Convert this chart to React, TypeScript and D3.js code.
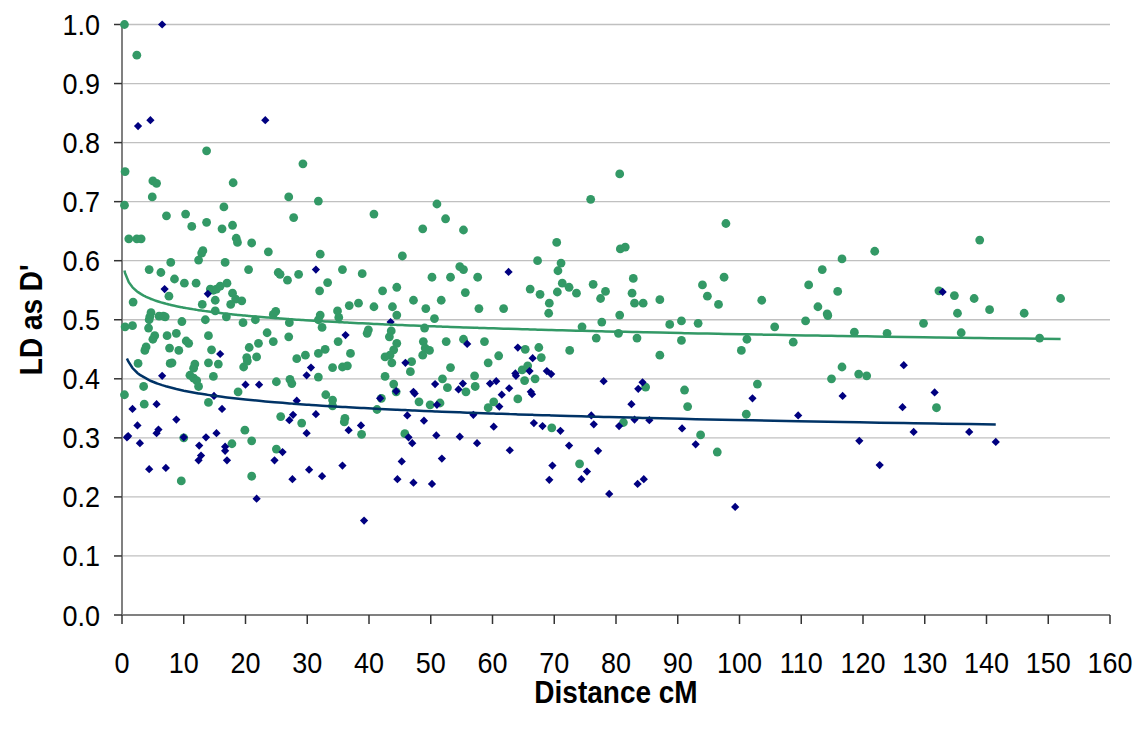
import React, { useEffect, useRef } from 'react';
import * as d3 from 'd3';

// distance (cM), LD (D')
const greenPoints: [number, number][] = [
  [0.4, 1.0], [2.4, 0.948], [0.5, 0.751], [5.0, 0.735], [5.6, 0.731], [13.7, 0.786], [18.0, 0.732], [29.3, 0.764],
  [4.9, 0.708], [27.0, 0.708], [0.4, 0.694], [7.2, 0.676], [10.3, 0.679], [13.7, 0.665], [16.5, 0.691], [11.3, 0.658],
  [16.2, 0.654], [17.9, 0.66], [27.8, 0.673], [1.1, 0.637], [2.4, 0.637], [3.1, 0.637], [18.5, 0.638], [18.7, 0.631],
  [21.0, 0.63], [23.7, 0.615], [13.1, 0.617], [12.9, 0.613], [12.4, 0.601], [7.9, 0.597], [16.7, 0.597], [4.4, 0.585],
  [6.3, 0.58], [20.5, 0.585], [25.3, 0.58], [25.6, 0.577], [26.8, 0.567], [28.6, 0.577], [8.5, 0.569], [10.1, 0.562],
  [12.0, 0.562], [17.0, 0.562], [14.3, 0.552], [14.8, 0.55], [15.3, 0.552], [15.9, 0.557], [15.1, 0.533], [17.9, 0.545],
  [18.4, 0.535], [19.4, 0.532], [7.6, 0.54], [1.8, 0.53], [17.6, 0.526], [13.0, 0.526], [15.1, 0.515], [24.9, 0.514],
  [24.5, 0.509], [16.9, 0.505], [13.5, 0.5], [9.7, 0.497], [4.7, 0.512], [4.5, 0.505], [4.4, 0.5], [6.0, 0.506],
  [7.0, 0.505], [6.7, 0.506], [19.6, 0.495], [21.6, 0.5], [27.1, 0.495], [0.5, 0.488], [1.7, 0.49], [4.3, 0.486],
  [8.8, 0.477], [23.5, 0.478], [14.0, 0.473], [5.3, 0.473], [5.0, 0.467], [7.3, 0.473], [10.4, 0.464], [10.8, 0.46],
  [27.0, 0.471], [24.5, 0.463], [22.1, 0.46], [20.6, 0.453], [3.9, 0.454], [3.7, 0.448], [7.7, 0.452], [9.2, 0.448],
  [14.5, 0.449], [21.8, 0.437], [20.2, 0.436], [29.7, 0.44], [28.3, 0.434],
  [2.6, 0.426], [7.8, 0.426], [8.1, 0.427], [11.8, 0.425], [11.6, 0.418], [14.0, 0.427], [15.6, 0.425], [19.7, 0.42],
  [20.3, 0.43], [11.0, 0.406], [11.6, 0.401], [12.1, 0.397], [12.4, 0.387], [14.8, 0.404], [3.5, 0.387], [0.4, 0.373],
  [3.6, 0.357], [14.0, 0.36], [18.8, 0.378], [25.0, 0.395], [27.2, 0.399], [27.5, 0.392], [25.7, 0.336], [29.1, 0.325],
  [19.9, 0.313], [21.0, 0.295], [17.8, 0.29], [10.0, 0.3], [25.0, 0.281], [21.0, 0.235], [9.6, 0.227],
  [31.8, 0.701], [40.8, 0.679], [51.0, 0.696], [52.4, 0.671], [48.7, 0.654], [55.3, 0.652], [32.1, 0.611], [45.4, 0.608],
  [35.7, 0.585], [38.9, 0.578], [33.3, 0.563], [32.0, 0.549], [42.2, 0.549], [44.5, 0.555], [50.2, 0.572], [53.2, 0.572],
  [54.7, 0.59], [55.3, 0.585], [57.6, 0.572], [55.6, 0.546], [47.2, 0.533], [51.7, 0.533], [36.8, 0.524], [38.3, 0.528],
  [40.8, 0.522], [43.8, 0.522], [49.2, 0.519], [57.8, 0.519], [61.8, 0.519], [34.9, 0.515], [35.1, 0.504], [32.1, 0.508],
  [31.8, 0.5], [32.4, 0.487], [44.5, 0.508], [50.6, 0.502], [39.9, 0.483], [39.7, 0.477], [43.6, 0.481], [43.3, 0.471],
  [49.0, 0.486], [35.0, 0.463], [44.5, 0.46], [48.8, 0.463], [49.1, 0.452], [49.8, 0.448], [52.5, 0.463], [55.3, 0.467],
  [58.7, 0.463], [32.9, 0.45], [31.8, 0.443], [37.0, 0.443], [44.0, 0.449], [43.4, 0.44], [42.6, 0.437], [48.7, 0.44],
  [61.0, 0.439], [34.1, 0.419], [35.7, 0.42], [36.5, 0.422], [31.8, 0.403], [43.7, 0.427], [46.9, 0.429], [46.7, 0.412],
  [42.6, 0.404], [44.0, 0.391], [44.4, 0.378], [53.2, 0.419], [51.9, 0.4], [52.7, 0.385], [57.1, 0.405], [57.2, 0.387],
  [55.7, 0.378], [59.3, 0.427], [33.0, 0.373], [34.1, 0.364], [34.1, 0.354], [48.1, 0.361], [49.9, 0.356], [51.5, 0.359],
  [60.2, 0.361], [59.3, 0.351], [42.0, 0.367], [41.3, 0.348], [36.1, 0.333], [36.0, 0.327], [38.8, 0.306], [45.8, 0.307],
  [80.6, 0.747], [75.9, 0.704], [70.4, 0.631], [80.7, 0.62], [81.5, 0.623], [67.3, 0.6], [71.1, 0.596], [70.6, 0.583],
  [66.1, 0.552], [67.7, 0.543], [71.3, 0.562], [72.4, 0.555], [73.6, 0.545], [70.5, 0.547], [69.2, 0.528], [69.1, 0.511],
  [76.3, 0.56], [78.3, 0.548], [77.5, 0.536], [82.8, 0.57], [82.6, 0.545], [83.0, 0.528], [84.4, 0.528], [87.1, 0.534],
  [94.0, 0.559], [94.8, 0.54], [80.6, 0.508], [77.7, 0.496], [74.5, 0.488], [76.8, 0.469], [80.4, 0.477], [83.4, 0.469],
  [88.7, 0.492], [90.6, 0.498], [90.6, 0.465], [93.3, 0.494], [87.1, 0.44], [72.5, 0.448], [65.3, 0.45], [67.5, 0.453],
  [67.9, 0.436], [64.8, 0.415], [65.7, 0.422], [65.2, 0.397], [66.9, 0.4], [64.1, 0.366], [69.6, 0.317], [74.1, 0.256],
  [84.8, 0.386], [81.2, 0.326], [91.1, 0.381], [91.6, 0.353], [93.7, 0.305],
  [97.8, 0.663], [97.5, 0.572], [96.6, 0.526], [103.6, 0.533], [105.7, 0.488], [101.2, 0.467], [100.3, 0.448], [108.7, 0.462],
  [102.9, 0.391], [101.1, 0.34], [96.4, 0.276], [110.7, 0.498], [111.2, 0.559], [112.7, 0.522], [113.4, 0.585], [114.2, 0.51],
  [114.3, 0.507], [115.9, 0.548], [116.6, 0.603], [121.9, 0.616], [118.6, 0.479], [123.9, 0.477], [114.9, 0.4], [116.6, 0.42],
  [119.3, 0.408], [120.6, 0.405], [138.9, 0.635], [132.3, 0.549], [134.8, 0.541], [138.0, 0.536], [135.3, 0.511], [140.5, 0.517],
  [146.1, 0.511], [152.0, 0.536], [129.8, 0.494], [135.9, 0.478], [148.6, 0.469], [131.9, 0.351],
];

const bluePoints: [number, number][] = [
  [6.5, 1.0], [2.6, 0.828], [4.6, 0.838], [23.2, 0.838], [6.9, 0.552], [13.9, 0.544], [15.9, 0.442], [6.5, 0.405],
  [1.7, 0.349], [5.6, 0.357], [2.5, 0.321], [0.8, 0.301], [1.0, 0.303], [2.9, 0.291], [5.9, 0.314], [5.6, 0.308],
  [8.8, 0.331], [10.0, 0.301], [4.4, 0.247], [7.1, 0.249], [12.4, 0.262], [12.8, 0.27], [12.5, 0.287], [13.6, 0.301],
  [15.3, 0.308], [16.7, 0.285], [16.7, 0.278], [17.0, 0.262], [16.2, 0.349], [14.9, 0.371], [20.0, 0.39], [22.2, 0.39],
  [21.8, 0.197], [24.7, 0.262], [26.0, 0.276], [27.1, 0.33], [27.7, 0.339], [28.3, 0.363], [29.9, 0.308], [30.3, 0.246],
  [27.6, 0.23], [29.9, 0.406], [30.6, 0.419], [31.4, 0.585], [43.5, 0.496], [36.2, 0.474], [55.9, 0.459], [62.6, 0.581],
  [31.4, 0.34], [36.7, 0.313], [38.7, 0.321], [35.7, 0.253], [32.4, 0.235], [39.2, 0.16], [45.9, 0.427], [41.8, 0.367],
  [44.4, 0.379], [47.2, 0.378], [47.4, 0.375], [50.7, 0.391], [54.5, 0.382], [55.2, 0.392], [59.6, 0.392], [60.6, 0.396],
  [61.5, 0.373], [61.1, 0.353], [62.7, 0.384], [51.0, 0.356], [46.2, 0.338], [48.9, 0.329], [56.9, 0.339], [60.2, 0.319],
  [46.4, 0.301], [47.0, 0.291], [50.9, 0.304], [54.7, 0.302], [57.5, 0.291], [62.8, 0.279], [45.3, 0.26], [51.8, 0.265],
  [44.6, 0.23], [47.2, 0.224], [50.2, 0.222], [64.1, 0.453], [66.5, 0.435], [63.7, 0.409], [63.8, 0.405], [66.0, 0.413],
  [66.2, 0.378], [66.4, 0.374], [68.8, 0.413], [69.5, 0.408], [66.7, 0.325], [68.1, 0.32], [71.0, 0.312], [72.4, 0.287],
  [69.7, 0.253], [69.2, 0.229], [74.4, 0.23], [75.3, 0.243], [77.1, 0.278], [78.0, 0.396], [76.0, 0.338], [76.4, 0.323],
  [78.9, 0.205], [80.5, 0.32], [82.5, 0.357], [83.6, 0.383], [84.3, 0.394], [83.0, 0.331], [85.4, 0.33], [83.5, 0.222],
  [84.5, 0.23], [90.7, 0.316], [92.9, 0.289], [99.3, 0.183], [102.1, 0.367], [109.5, 0.338], [116.7, 0.371], [119.4, 0.295],
  [122.7, 0.254], [126.6, 0.423], [126.4, 0.352], [132.9, 0.547], [131.6, 0.377], [128.2, 0.31], [137.2, 0.31], [141.5, 0.293],
];

const xTicks = [0, 10, 20, 30, 40, 50, 60, 70, 80, 90, 100, 110, 120, 130, 140, 150, 160];
const yTicks = [0, 0.1, 0.2, 0.3, 0.4, 0.5, 0.6, 0.7, 0.8, 0.9, 1.0];

const GREEN = '#339966';
const BLUE = '#000080';
const BLUE_LINE = '#003366';

// logarithmic trendline (least squares on ln x), evaluated at the series' own x values
const logTrend = (pts: [number, number][]) => {
  const lx = pts.map(p => Math.log(p[0]));
  const ys = pts.map(p => p[1]);
  const mx = d3.mean(lx) as number;
  const my = d3.mean(ys) as number;
  let sxy = 0, sxx = 0;
  lx.forEach((v, i) => { sxy += (v - mx) * (ys[i] - my); sxx += (v - mx) * (v - mx); });
  const b = sxy / sxx;
  const a = my - b * mx;
  const xs = Array.from(new Set(pts.map(p => p[0]))).sort((p, q) => p - q);
  return xs.map(x => [x, a + b * Math.log(x)] as [number, number]);
};

const App = () => {
  const ref = useRef<SVGSVGElement>(null);

  useEffect(() => {
    const width = 1145, height = 730;
    const margin = { top: 24.5, right: 35, bottom: 115, left: 122 };
    const svg = d3.select(ref.current);
    svg.selectAll('*').remove();

    const x = d3.scaleLinear().domain([0, 160]).range([margin.left, width - margin.right]);
    const y = d3.scaleLinear().domain([0, 1]).range([height - margin.bottom, margin.top]);
    const font = '"Liberation Sans", Arial, sans-serif';
    const stretch = 1.1; // glyphs in the original are a bit taller than wide

    // gridlines
    svg.append('g')
      .selectAll('line')
      .data(yTicks.slice(1))
      .join('line')
      .attr('x1', x(0)).attr('x2', x(160))
      .attr('y1', d => y(d)).attr('y2', d => y(d))
      .attr('stroke', '#c0c0c0').attr('stroke-width', 1.3);

    // axes lines
    svg.append('line')
      .attr('x1', x(0)).attr('x2', x(0)).attr('y1', y(0)).attr('y2', y(1))
      .attr('stroke', '#808080').attr('stroke-width', 2);
    svg.append('line')
      .attr('x1', x(0)).attr('x2', x(160)).attr('y1', y(0)).attr('y2', y(0))
      .attr('stroke', '#808080').attr('stroke-width', 2);

    // ticks
    svg.append('g')
      .selectAll('line')
      .data(yTicks)
      .join('line')
      .attr('x1', x(0) - 8).attr('x2', x(0))
      .attr('y1', d => y(d)).attr('y2', d => y(d))
      .attr('stroke', '#333').attr('stroke-width', 1.5);
    svg.append('g')
      .selectAll('line')
      .data(xTicks)
      .join('line')
      .attr('x1', d => x(d)).attr('x2', d => x(d))
      .attr('y1', y(0)).attr('y2', y(0) + 9)
      .attr('stroke', '#333').attr('stroke-width', 1.5);

    // tick labels
    svg.append('g')
      .selectAll('text')
      .data(yTicks)
      .join('text')
      .attr('transform', d => `translate(${x(0) - 22},${y(d) + 10.5}) scale(1,${stretch})`)
      .attr('text-anchor', 'end')
      .attr('font-family', font).attr('font-size', 27)
      .attr('fill', '#000')
      .text(d => d.toFixed(1));
    svg.append('g')
      .selectAll('text')
      .data(xTicks)
      .join('text')
      .attr('transform', d => `translate(${x(d)},${y(0) + 58}) scale(1,${stretch})`)
      .attr('text-anchor', 'middle')
      .attr('font-family', font).attr('font-size', 27)
      .attr('fill', '#000')
      .text(d => d);

    // axis titles
    svg.append('text')
      .attr('transform', `translate(${(x(0) + x(160)) / 2},703) scale(1,${stretch})`)
      .attr('text-anchor', 'middle')
      .attr('font-family', font).attr('font-size', 28).attr('font-weight', 'bold')
      .text('Distance cM');
    svg.append('text')
      .attr('transform', `translate(42,${(y(0) + y(1)) / 2}) rotate(-90) scale(1,${stretch})`)
      .attr('text-anchor', 'middle')
      .attr('font-family', font).attr('font-size', 28).attr('font-weight', 'bold')
      .text("LD as D'");

    // points
    svg.append('g')
      .attr('fill', GREEN)
      .selectAll('circle')
      .data(greenPoints)
      .join('circle')
      .attr('cx', d => x(d[0]))
      .attr('cy', d => y(d[1]))
      .attr('r', 4.4);

    const diamond = d3.symbol(d3.symbolSquare, 34)();
    svg.append('g')
      .attr('fill', BLUE)
      .selectAll('path')
      .data(bluePoints)
      .join('path')
      .attr('d', diamond)
      .attr('transform', d => `translate(${x(d[0])},${y(d[1])}) rotate(45)`);

    // trendlines
    const line = d3.line<[number, number]>().x(d => x(d[0])).y(d => y(d[1]));
    svg.append('path')
      .attr('d', line(logTrend(greenPoints)))
      .attr('fill', 'none').attr('stroke', GREEN).attr('stroke-width', 2.5);
    svg.append('path')
      .attr('d', line(logTrend(bluePoints)))
      .attr('fill', 'none').attr('stroke', BLUE_LINE).attr('stroke-width', 2.5);
  }, []);

  return (
    <div style={{ position: 'absolute', left: 0, top: 0 }}>
      <svg ref={ref} width={1145} height={730} style={{ display: 'block', background: '#fff' }} />
    </div>
  );
};

export default App;
